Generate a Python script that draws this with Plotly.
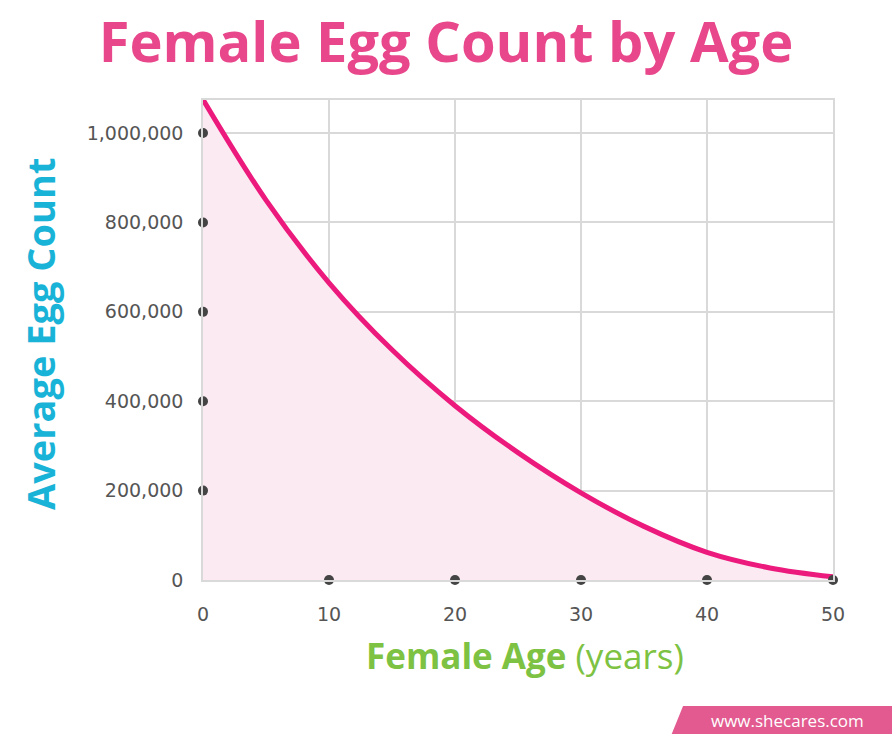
import plotly.graph_objects as go

# cores
PINK_TITLE = "#e8478b"
PINK_LINE = "#ec1a7c"
PINK_FILL = "#fbeaf2"
CYAN = "#1ab3d8"
GREEN = "#7dc242"
GREY_TXT = "#555555"
GRID = "#d9d9d9"

# dados
ages = [0, 5, 10, 15, 20, 25, 30, 35, 40, 45, 50]
egg_counts = [1075000, 850000, 665000, 515000, 390000, 285000, 195000, 120000, 62000, 27000, 7000]

x_ticks = [0, 10, 20, 30, 40, 50]
y_ticks = [0, 200000, 400000, 600000, 800000, 1000000]

fig = go.Figure()

fig.add_trace(go.Scatter(
    x=ages, y=egg_counts,
    mode="lines",
    line=dict(color=PINK_LINE, width=5, shape="spline", smoothing=1.0),
    fill="tozeroy",
    fillcolor=PINK_FILL,
    hoverinfo="skip",
))

# pontos nos ticks dos eixos
fig.add_trace(go.Scatter(
    x=[0] * (len(y_ticks) - 1), y=y_ticks[1:],
    mode="markers", marker=dict(color="#444444", size=10),
    cliponaxis=False, hoverinfo="skip",
))
fig.add_trace(go.Scatter(
    x=x_ticks[1:], y=[0] * (len(x_ticks) - 1),
    mode="markers", marker=dict(color="#444444", size=10),
    cliponaxis=False, hoverinfo="skip",
))

fig.update_layout(
    width=892, height=749,
    paper_bgcolor="white", plot_bgcolor="white",
    showlegend=False,
    margin=dict(l=203, r=59, t=100, b=169),
    font=dict(family="Open Sans", size=15, color=GREY_TXT),
    title=dict(
        text="<b>Female Egg Count by Age</b>",
        x=0.5, xanchor="center", y=1 - 42 / 749, yanchor="middle",
        font=dict(family="Open Sans", size=56, color=PINK_TITLE),
    ),
)

fig.update_xaxes(
    range=[0, 50], tickvals=x_ticks,
    showgrid=True, gridcolor=GRID, gridwidth=1.5,
    showline=True, linecolor=GRID, linewidth=1.5, mirror=True,
    zeroline=False, ticks="", ticklabelstandoff=16,
    tickfont=dict(family="DejaVu Sans", size=19, color=GREY_TXT),
)
fig.update_yaxes(
    range=[0, 1074000], tickvals=y_ticks, tickformat=",",
    showgrid=True, gridcolor=GRID, gridwidth=1.5,
    showline=True, linecolor=GRID, linewidth=1.5, mirror=True,
    zeroline=False, ticks="", ticklabelstandoff=14,
    tickfont=dict(family="DejaVu Sans", size=19, color=GREY_TXT),
)

# títulos dos eixos
fig.add_annotation(
    text="<b>Average Egg Count</b>", textangle=-90,
    xref="paper", yref="paper", x=(40 - 203) / 630, y=(580 - 333) / 480,
    xanchor="center", yanchor="middle",
    showarrow=False, font=dict(family="Open Sans", size=38, color=CYAN),
)
fig.add_annotation(
    text="<b>Female Age</b> (years)",
    xref="paper", yref="paper", x=(525 - 203) / 630, y=(580 - 655) / 480,
    xanchor="center", yanchor="middle",
    showarrow=False, font=dict(family="Open Sans", size=35, color=GREEN),
)

# selo do site
fig.add_shape(
    type="path", xref="paper", yref="paper",
    path="M 0.762 -0.2625 L 1.095 -0.2625 L 1.095 -0.3208 L 0.744 -0.3208 Z",
    fillcolor="#e25a8f", line=dict(width=0),
)
fig.add_annotation(
    text="www.shecares.com",
    xref="paper", yref="paper", x=(787 - 203) / 630, y=(580 - 720) / 480,
    xanchor="center", yanchor="middle",
    showarrow=False, font=dict(family="Open Sans", size=17, color="white"),
)

fig.write_html(
    "out.html",
    config={"displayModeBar": False},
    post_script="document.body.style.margin='0';",
)
